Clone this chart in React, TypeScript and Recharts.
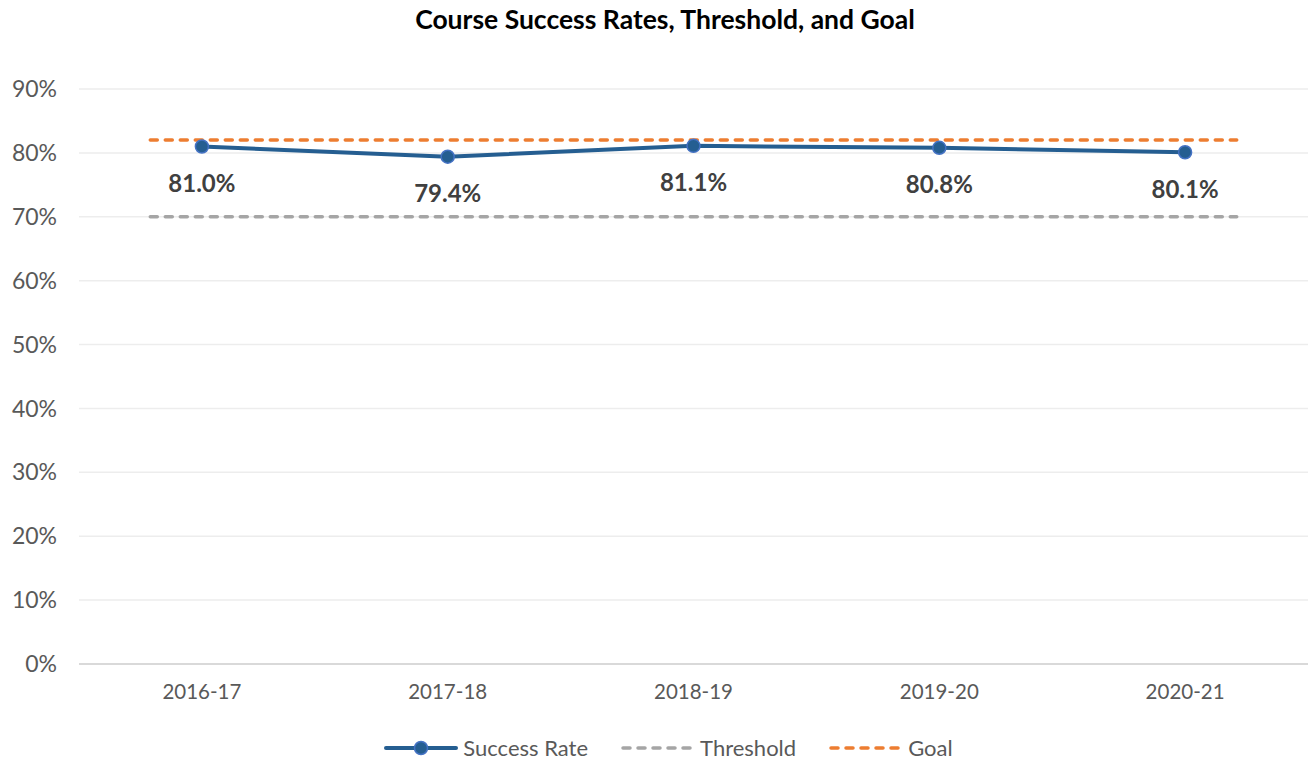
import { LineChart, Line, XAxis, YAxis, CartesianGrid, LabelList } from 'recharts';

const years = ['2016-17', '2017-18', '2018-19', '2019-20', '2020-21'];
const successRates = [81.0, 79.4, 81.1, 80.8, 80.1];
const thresholdValue = 70;
const goalValue = 82;
// the target lines in the original run a bit past the first and last year
const targetSpan = [-0.21, 4.21];
const yTicks = [0, 10, 20, 30, 40, 50, 60, 70, 80, 90];

const successData = years.map((year, i) => ({ x: i, year, value: successRates[i] }));
const thresholdData = targetSpan.map((x) => ({ x, value: thresholdValue }));
const goalData = targetSpan.map((x) => ({ x, value: goalValue }));

const FONT = 'Lato, "Open Sans", sans-serif';
const BLUE = '#255E91';
const GRAY = '#A5A5A5';
const ORANGE = '#ED7D31';

function RateLabel(props: any) {
  const { x, y, value } = props;
  return (
    <text
      x={x}
      y={y + 36}
      textAnchor="middle"
      dominantBaseline="central"
      fontFamily={FONT}
      fontWeight={700}
      fontSize={24}
      fill="#404040"
    >
      {`${Number(value).toFixed(1)}%`}
    </text>
  );
}

function LegendItem({ label, color, dashed, marker }: { label: string; color: string; dashed?: boolean; marker?: boolean }) {
  return (
    <div style={{ display: 'flex', alignItems: 'center', marginRight: 32 }}>
      <svg width={76} height={16} style={{ marginRight: 4 }}>
        <line
          x1={3}
          y1={8}
          x2={73}
          y2={8}
          stroke={color}
          strokeWidth={dashed ? 3.5 : 4}
          strokeDasharray={dashed ? '7 8' : undefined}
          strokeLinecap="round"
        />
        {marker && <circle cx={38} cy={8} r={6.5} fill={BLUE} stroke="#4472C4" strokeWidth={1.5} />}
      </svg>
      <span>{label}</span>
    </div>
  );
}

export default function App() {
  return (
    <div style={{ position: 'relative', width: 1310, height: 761, background: '#fff', fontFamily: FONT, overflow: 'hidden' }}>
      <style>{'html, body { margin: 0; padding: 0; overflow: hidden; }'}</style>
      <div
        style={{
          position: 'absolute',
          top: 3,
          left: 10,
          width: 1310,
          textAlign: 'center',
          fontWeight: 700,
          fontSize: 26.5,
          color: '#000',
        }}
      >
        Course Success Rates, Threshold, and Goal
      </div>

      <LineChart width={1310} height={761} margin={{ top: 89, right: 2, bottom: 67, left: 0 }}>
        <CartesianGrid vertical={false} stroke="#EDEDED" strokeWidth={1.5} />
        <XAxis
          dataKey="x"
          type="number"
          domain={[-0.5, 4.5]}
          ticks={[0, 1, 2, 3, 4]}
          tickFormatter={(v: number) => years[v] ?? ''}
          allowDuplicatedCategory={false}
          stroke="#D0D0D0"
          strokeWidth={1.5}
          tickLine={false}
          tickSize={0}
          tickMargin={20}
          tick={{ fontSize: 20.5, fill: '#595959', fontFamily: FONT }}
        />
        <YAxis
          type="number"
          domain={[0, 90]}
          ticks={yTicks}
          tickFormatter={(v: number) => `${v}%`}
          width={79}
          axisLine={false}
          tickLine={false}
          tickSize={0}
          tickMargin={22}
          tick={{ fontSize: 23, fill: '#595959', fontFamily: FONT }}
        />
        <Line
          data={thresholdData}
          dataKey="value"
          stroke={GRAY}
          strokeWidth={3.5}
          strokeDasharray="7 8"
          strokeLinecap="round"
          dot={false}
          isAnimationActive={false}
        />
        <Line
          data={goalData}
          dataKey="value"
          stroke={ORANGE}
          strokeWidth={3.5}
          strokeDasharray="7 8"
          strokeLinecap="round"
          dot={false}
          isAnimationActive={false}
        />
        <Line
          data={successData}
          dataKey="value"
          stroke={BLUE}
          strokeWidth={4}
          dot={{ r: 6.5, fill: BLUE, stroke: '#4472C4', strokeWidth: 1.5 }}
          isAnimationActive={false}
        >
          <LabelList dataKey="value" content={RateLabel} />
        </Line>
      </LineChart>

      <div
        style={{
          position: 'absolute',
          top: 734,
          left: 0,
          width: 1310,
          display: 'flex',
          justifyContent: 'center',
          fontSize: 22,
          lineHeight: '28px',
          color: '#595959',
          paddingLeft: 58,
          boxSizing: 'border-box',
        }}
      >
        <LegendItem label="Success Rate" color={BLUE} marker />
        <LegendItem label="Threshold" color={GRAY} dashed />
        <LegendItem label="Goal" color={ORANGE} dashed />
      </div>
    </div>
  );
}
